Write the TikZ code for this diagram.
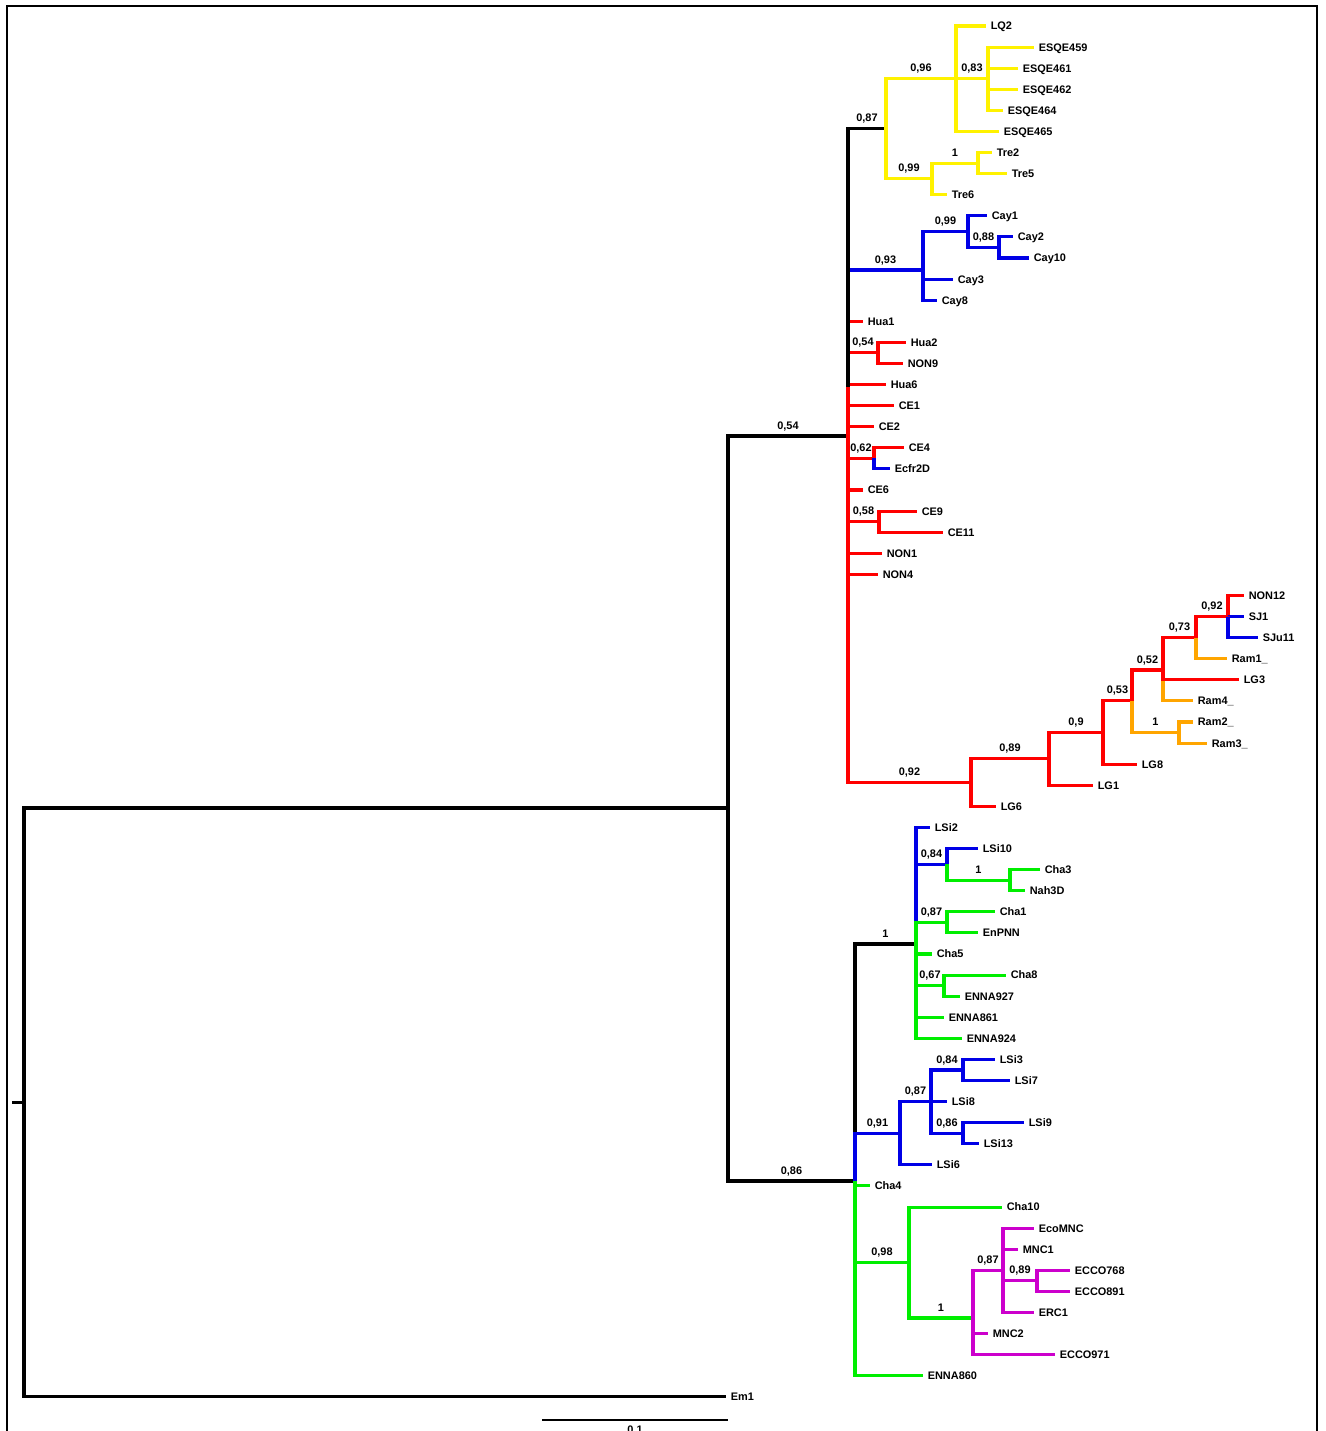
\documentclass[tikz,border=0pt]{standalone}
\usepackage{fontspec}
\setmainfont{Liberation Sans}
\usetikzlibrary{calc}
\definecolor{colY}{RGB}{255,242,0}
\definecolor{colB}{RGB}{0,0,230}
\definecolor{colR}{RGB}{255,0,0}
\definecolor{colG}{RGB}{0,238,0}
\definecolor{colM}{RGB}{204,0,204}
\definecolor{colO}{RGB}{255,165,0}
\tikzset{
  br/.style={line width=2.3pt, line join=miter},
  yb/.style={br, draw=colY}, bb/.style={br, draw=colB}, rb/.style={br, draw=colR},
  gb/.style={br, draw=colG}, mb/.style={br, draw=colM}, ob/.style={br, draw=colO},
  leaf/.style={anchor=west, inner xsep=3.4pt, inner ysep=0pt, text height=5.9pt, text depth=0pt, font=\fontsize{8.2}{10}\selectfont\bfseries},
  bsv/.style={anchor=base, inner sep=0pt, font=\fontsize{8.2}{10}\selectfont\bfseries},
  frame/.style={line width=1.4pt},
  sbar/.style={line width=0.8pt}
}
\newcommand{\mkleaf}[4]{\node[leaf] (#1) at (#2,#3) {#4};}
\newcommand{\bsl}[4]{\node[bsv] (#1) at (#2,#3) {#4};}
\begin{document}
\begin{tikzpicture}[x=0.75pt,y=-0.75pt]
\useasboundingbox (0,0) rectangle (1326,1431);
\fill[white] (0,0) rectangle (1326,1431);
% frame
\coordinate (f1) at (7,1435);
\coordinate (f2) at (7,6);
\coordinate (f3) at (1317,6);
\coordinate (f4) at (1317,1435);
\draw[frame] (f1) -- (f2) -- (f3) -- (f4);
% leaves
\mkleaf{LQ2}{986}{26}{LQ2}
\mkleaf{E459}{1034}{47.09}{ESQE459}
\mkleaf{E461}{1018}{68.18}{ESQE461}
\mkleaf{E462}{1018}{89.27}{ESQE462}
\mkleaf{E464}{1003}{110.36}{ESQE464}
\mkleaf{E465}{999}{131.45}{ESQE465}
\mkleaf{Tre2}{992}{152.54}{Tre2}
\mkleaf{Tre5}{1007}{173.63}{Tre5}
\mkleaf{Tre6}{947}{194.72}{Tre6}
\mkleaf{Cay1}{987}{215.81}{Cay1}
\mkleaf{Cay2}{1013}{236.9}{Cay2}
\mkleaf{Cay10}{1029}{257.99}{Cay10}
\mkleaf{Cay3}{953}{279.08}{Cay3}
\mkleaf{Cay8}{937}{300.17}{Cay8}
\mkleaf{Hua1}{863}{321.26}{Hua1}
\mkleaf{Hua2}{906}{342.35}{Hua2}
\mkleaf{NON9}{903}{363.44}{NON9}
\mkleaf{Hua6}{886}{384.53}{Hua6}
\mkleaf{CE1}{894}{405.62}{CE1}
\mkleaf{CE2}{874}{426.71}{CE2}
\mkleaf{CE4}{904}{447.8}{CE4}
\mkleaf{Ecfr}{890}{468.89}{Ecfr2D}
\mkleaf{CE6}{863}{489.98}{CE6}
\mkleaf{CE9}{917}{511.07}{CE9}
\mkleaf{CE11}{943}{532.16}{CE11}
\mkleaf{NON1}{882}{553.25}{NON1}
\mkleaf{NON4}{878}{574.34}{NON4}
\mkleaf{NON12}{1244}{595.43}{NON12}
\mkleaf{SJ1}{1244}{616.52}{SJ1}
\mkleaf{SJu11}{1258}{637.61}{SJu11}
\mkleaf{Ram1}{1227}{658.7}{Ram1\_}
\mkleaf{LG3}{1239}{679.79}{LG3}
\mkleaf{Ram4}{1193}{700.88}{Ram4\_}
\mkleaf{Ram2}{1193}{721.97}{Ram2\_}
\mkleaf{Ram3}{1207}{743.06}{Ram3\_}
\mkleaf{LG8}{1137}{764.15}{LG8}
\mkleaf{LG1}{1093}{785.24}{LG1}
\mkleaf{LG6}{996}{806.33}{LG6}
\mkleaf{LSi2}{930}{827.42}{LSi2}
\mkleaf{LSi10}{978}{848.51}{LSi10}
\mkleaf{Cha3}{1040}{869.6}{Cha3}
\mkleaf{Nah3D}{1025}{890.69}{Nah3D}
\mkleaf{Cha1}{995}{911.78}{Cha1}
\mkleaf{EnPNN}{978}{932.87}{EnPNN}
\mkleaf{Cha5}{932}{953.96}{Cha5}
\mkleaf{Cha8}{1006}{975.05}{Cha8}
\mkleaf{N927}{960}{996.14}{ENNA927}
\mkleaf{N861}{944}{1017.23}{ENNA861}
\mkleaf{N924}{962}{1038.32}{ENNA924}
\mkleaf{LSi3}{995}{1059.41}{LSi3}
\mkleaf{LSi7}{1010}{1080.5}{LSi7}
\mkleaf{LSi8}{947}{1101.59}{LSi8}
\mkleaf{LSi9}{1024}{1122.68}{LSi9}
\mkleaf{LSi13}{979}{1143.77}{LSi13}
\mkleaf{LSi6}{932}{1164.86}{LSi6}
\mkleaf{Cha4}{870}{1185.95}{Cha4}
\mkleaf{Cha10}{1002}{1207.04}{Cha10}
\mkleaf{EcoMNC}{1034}{1228.13}{EcoMNC}
\mkleaf{MNC1}{1018}{1249.22}{MNC1}
\mkleaf{C768}{1070}{1270.31}{ECCO768}
\mkleaf{C891}{1070}{1291.4}{ECCO891}
\mkleaf{ERC1}{1034}{1312.49}{ERC1}
\mkleaf{MNC2}{988}{1333.58}{MNC2}
\mkleaf{C971}{1055}{1354.67}{ECCO971}
\mkleaf{N860}{923}{1375.76}{ENNA860}
\mkleaf{Em1}{726}{1396.85}{Em1}
% internal nodes
\coordinate (rs) at (12,1102.4);
\coordinate (root) at (24,1102.4);
\coordinate (nA) at (728,808);
\coordinate (nB) at (848,436);
\coordinate (nBk) at (848,387);
\coordinate (nC) at (855,1181);
\coordinate (y087) at (886,128.8);
\coordinate (y096) at (956,78.7);
\coordinate (y083) at (988,78.7);
\coordinate (y099) at (932,178.9);
\coordinate (y1) at (978,163.1);
\coordinate (c093) at (923,270);
\coordinate (c099) at (968,231.6);
\coordinate (c088) at (999,247.4);
\coordinate (r054) at (878,352.9);
\coordinate (r062) at (874,458.3);
\coordinate (r058) at (879,521.6);
\coordinate (r092) at (971,782.6);
\coordinate (r089) at (1049,758.9);
\coordinate (r09) at (1103,732.5);
\coordinate (r053) at (1132,700.9);
\coordinate (r052) at (1163,670);
\coordinate (r073) at (1196,637.6);
\coordinate (r092s) at (1228,616.5);
\coordinate (o1) at (1179,732.5);
\coordinate (g1) at (916,944);
\coordinate (g084) at (947,864.3);
\coordinate (g1c) at (1010,880.1);
\coordinate (g087) at (947,922.3);
\coordinate (g067) at (944,985.6);
\coordinate (b091) at (900,1133.2);
\coordinate (b087) at (931,1101.6);
\coordinate (b084) at (963,1070);
\coordinate (b086) at (963,1133.2);
\coordinate (g098) at (909,1262.5);
\coordinate (m1) at (973,1318);
\coordinate (m087) at (1003,1270.3);
\coordinate (m089) at (1037,1280.9);
% root and backbone
\draw[br] (rs) -- (root);
\draw[br] (root) |- (nA);
\draw[br] (root) |- (Em1.west);
\draw[br] (nA) |- (nB);
\draw[br] (nA) |- (nC);
% upper polytomy
\draw[br] (nB) |- (y087);
\draw[bb] (nB) |- (c093);
\draw[rb] (nB) |- (Hua1.west);
\draw[rb] (nB) |- (r054);
\draw[rb] (nB) |- (Hua6.west);
\draw[rb] (nB) |- (CE1.west);
\draw[rb] (nB) |- (CE2.west);
\draw[rb] (nB) |- (r062);
\draw[rb] (nB) |- (CE6.west);
\draw[rb] (nB) |- (r058);
\draw[rb] (nB) |- (NON1.west);
\draw[rb] (nB) |- (NON4.west);
\draw[rb] (nB) |- (r092);
\draw[br] (y087 -| nB) -- (nBk);
% yellow clade
\draw[yb] (y087) |- (y096);
\draw[yb] (y087) |- (y099);
\draw[yb] (y096) |- (LQ2.west);
\draw[yb] (y096) -- (y083);
\draw[yb] (y096) |- (E465.west);
\draw[yb] (y083) |- (E459.west);
\draw[yb] (y083) |- (E461.west);
\draw[yb] (y083) |- (E462.west);
\draw[yb] (y083) |- (E464.west);
\draw[yb] (y099) |- (y1);
\draw[yb] (y099) |- (Tre6.west);
\draw[yb] (y1) |- (Tre2.west);
\draw[yb] (y1) |- (Tre5.west);
% Cay clade
\draw[bb] (c093) |- (c099);
\draw[bb] (c093) |- (Cay3.west);
\draw[bb] (c093) |- (Cay8.west);
\draw[bb] (c099) |- (Cay1.west);
\draw[bb] (c099) |- (c088);
\draw[bb] (c088) |- (Cay2.west);
\draw[bb] (c088) |- (Cay10.west);
% red small clades
\draw[rb] (r054) |- (Hua2.west);
\draw[rb] (r054) |- (NON9.west);
\draw[bb] (r062) |- (Ecfr.west);
\draw[rb] (r062) |- (CE4.west);
\draw[rb] (r058) |- (CE9.west);
\draw[rb] (r058) |- (CE11.west);
% LG clade
\draw[rb] (r092) |- (r089);
\draw[rb] (r092) |- (LG6.west);
\draw[rb] (r089) |- (r09);
\draw[rb] (r089) |- (LG1.west);
\draw[rb] (r09) |- (r053);
\draw[rb] (r09) |- (LG8.west);
\draw[ob] (r053) |- (o1);
\draw[rb] (r053) |- (r052);
\draw[ob] (r052) |- (Ram4.west);
\draw[rb] (r052) |- (r073);
\draw[rb] (r052) |- (LG3.west);
\draw[ob] (r073) |- (Ram1.west);
\draw[rb] (r073) |- (r092s);
\draw[rb] (r092s) |- (NON12.west);
\draw[bb] (r092s) |- (SJ1.west);
\draw[bb] (r092s) |- (SJu11.west);
\draw[ob] (o1) |- (Ram2.west);
\draw[ob] (o1) |- (Ram3.west);
% lower polytomy
\draw[br] (nC) |- (g1);
\draw[bb] (nC) |- (b091);
\draw[gb] (nC) |- (Cha4.west);
\draw[gb] (nC) |- (g098);
\draw[gb] (nC) |- (N860.west);
% clade 1 (LSi / Cha)
\draw[bb] (g1) |- (LSi2.west);
\draw[bb] (g1) |- (g084);
\draw[gb] (g1) |- (g087);
\draw[gb] (g1) |- (Cha5.west);
\draw[gb] (g1) |- (g067);
\draw[gb] (g1) |- (N861.west);
\draw[gb] (g1) |- (N924.west);
\draw[gb] (g084) |- (g1c);
\draw[bb] (g084) |- (LSi10.west);
\draw[gb] (g1c) |- (Cha3.west);
\draw[gb] (g1c) |- (Nah3D.west);
\draw[gb] (g087) |- (Cha1.west);
\draw[gb] (g087) |- (EnPNN.west);
\draw[gb] (g067) |- (Cha8.west);
\draw[gb] (g067) |- (N927.west);
% LSi clade
\draw[bb] (b091) |- (b087);
\draw[bb] (b091) |- (LSi6.west);
\draw[bb] (b087) |- (b084);
\draw[bb] (b087) |- (LSi8.west);
\draw[bb] (b087) |- (b086);
\draw[bb] (b084) |- (LSi3.west);
\draw[bb] (b084) |- (LSi7.west);
\draw[bb] (b086) |- (LSi9.west);
\draw[bb] (b086) |- (LSi13.west);
% 0.98 clade
\draw[gb] (g098) |- (Cha10.west);
\draw[gb] (g098) |- (m1);
\draw[mb] (m1) |- (m087);
\draw[mb] (m1) |- (MNC2.west);
\draw[mb] (m1) |- (C971.west);
\draw[mb] (m087) |- (EcoMNC.west);
\draw[mb] (m087) |- (MNC1.west);
\draw[mb] (m087) |- (m089);
\draw[mb] (m087) |- (ERC1.west);
\draw[mb] (m089) |- (C768.west);
\draw[mb] (m089) |- (C891.west);
% support values
\bsl{s1}{788}{429}{0,54}
\bsl{s2}{791.5}{1174}{0,86}
\bsl{s3}{867}{121.8}{0,87}
\bsl{s4}{921}{71.7}{0,96}
\bsl{s5}{972}{71.7}{0,83}
\bsl{s6}{909}{171.9}{0,99}
\bsl{s7}{955}{156.1}{1}
\bsl{s8}{885.5}{263}{0,93}
\bsl{s9}{945.5}{224.6}{0,99}
\bsl{s10}{983.5}{240.4}{0,88}
\bsl{s11}{863}{345.9}{0,54}
\bsl{s12}{861}{451.3}{0,62}
\bsl{s13}{863.5}{514.6}{0,58}
\bsl{s14}{909.5}{775.6}{0,92}
\bsl{s15}{1010}{751.9}{0,89}
\bsl{s16}{1076}{725.5}{0,9}
\bsl{s17}{1117.5}{693.9}{0,53}
\bsl{s18}{1147.5}{663}{0,52}
\bsl{s19}{1179.5}{630.6}{0,73}
\bsl{s20}{1212}{609.5}{0,92}
\bsl{s21}{1155.5}{725.5}{1}
\bsl{s22}{885.5}{937}{1}
\bsl{s23}{931.5}{857.3}{0,84}
\bsl{s24}{978.5}{873.1}{1}
\bsl{s25}{931.5}{915.3}{0,87}
\bsl{s26}{930}{978.6}{0,67}
\bsl{s27}{877.5}{1126.2}{0,91}
\bsl{s28}{915.5}{1094.6}{0,87}
\bsl{s29}{947}{1063}{0,84}
\bsl{s30}{947}{1126.2}{0,86}
\bsl{s31}{882}{1255.5}{0,98}
\bsl{s32}{941}{1311}{1}
\bsl{s33}{988}{1263.3}{0,87}
\bsl{s34}{1020}{1273.9}{0,89}
% scale bar
\coordinate (sb1) at (542,1420);
\coordinate (sb2) at (728,1420);
\draw[sbar] (sb1) -- (sb2);
\node[bsv, anchor=north] (sbl) at (635,1426) {0,1};
\end{tikzpicture}
\end{document}
